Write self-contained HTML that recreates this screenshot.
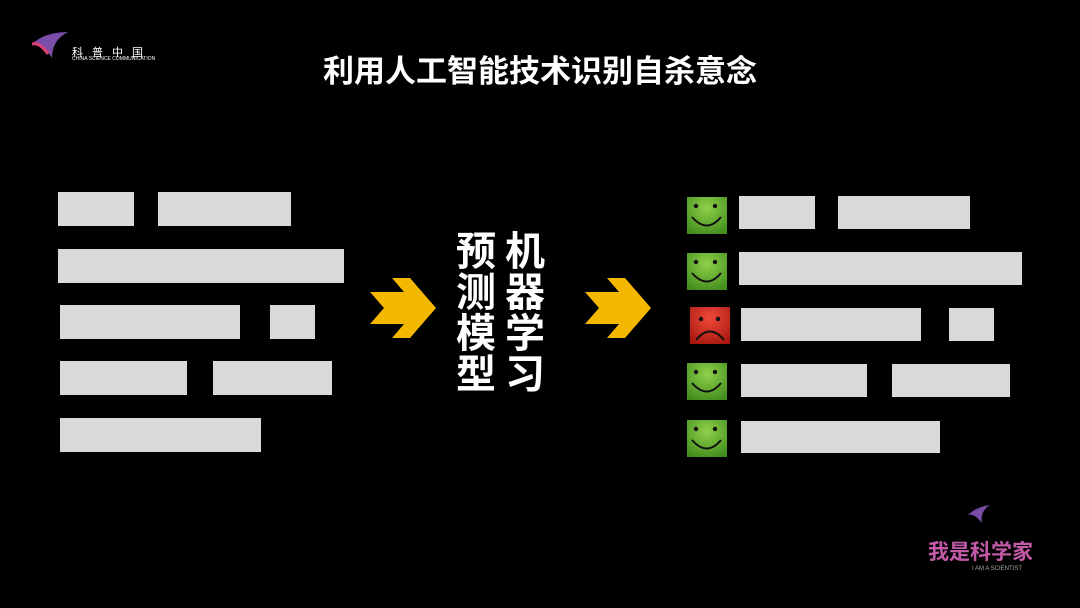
<!DOCTYPE html>
<html><head><meta charset="utf-8"><style>
body{margin:0;width:1080px;height:608px;background:#000;position:relative;overflow:hidden;font-family:"Liberation Sans","Noto Sans CJK SC",sans-serif}
.b{position:absolute;background:#d9d9d9}
.i{position:absolute;width:40px;height:37px}
.t{position:absolute;color:#fff;font-weight:bold}
</style></head><body>
<div class="t" style="left:0;width:1080px;top:46px;text-align:center;font-size:31px">利用人工智能技术识别自杀意念</div>
<svg style="position:absolute;left:30px;top:30px" width="40" height="30"><path d="M2 14 Q15 2 38 2 Q22 10 22 28 Q12 12 2 14Z" fill="#7a4ea8"/><path d="M2 14 Q10 12 18 24" stroke="#e0407a" stroke-width="3" fill="none"/></svg>
<div class="t" style="left:72px;top:44px;font-size:11px;font-weight:normal;letter-spacing:9px">科普中国</div>
<div class="t" style="left:72px;top:56px;font-size:5px;font-weight:normal">CHINA SCIENCE COMMUNICATION</div>

<div class="b" style="left:58px;top:192px;width:76px;height:34px"></div>
<div class="b" style="left:158px;top:192px;width:133px;height:34px"></div>
<div class="b" style="left:58px;top:249px;width:286px;height:34px"></div>
<div class="b" style="left:60px;top:305px;width:180px;height:34px"></div>
<div class="b" style="left:270px;top:305px;width:45px;height:34px"></div>
<div class="b" style="left:60px;top:361px;width:127px;height:34px"></div>
<div class="b" style="left:213px;top:361px;width:119px;height:34px"></div>
<div class="b" style="left:60px;top:418px;width:201px;height:34px"></div>

<svg style="position:absolute;left:370px;top:278px" width="66" height="60"><polygon points="0,14 34,14 22,0 40,0 66,30 40,60 22,60 34,46 0,46 14,30" fill="#f5b800"/></svg>
<svg style="position:absolute;left:585px;top:278px" width="66" height="60"><polygon points="0,14 34,14 22,0 40,0 66,30 40,60 22,60 34,46 0,46 14,30" fill="#f5b800"/></svg>

<div class="t" style="left:456px;top:232px;font-size:40px;line-height:41px;width:44px">预<br>测<br>模<br>型</div>
<div class="t" style="left:505px;top:232px;font-size:40px;line-height:41px;width:44px">机<br>器<br>学<br>习</div>

<svg width="0" height="0" style="position:absolute"><defs>
<radialGradient id="g" cx=".5" cy=".3" r=".8"><stop offset="0" stop-color="#8fd04a"/><stop offset="1" stop-color="#3f8a1c"/></radialGradient>
<radialGradient id="r" cx=".5" cy=".3" r=".8"><stop offset="0" stop-color="#f04a3a"/><stop offset="1" stop-color="#a3150d"/></radialGradient>
<g id="s"><rect width="40" height="37" fill="url(#g)"/><circle cx="9" cy="9" r="2.2" fill="#111"/><circle cx="28" cy="9" r="2.2" fill="#111"/><path d="M5 20 Q20 37 34 20" stroke="#111" stroke-width="2" fill="none"/></g>
<g id="f"><rect width="40" height="37" fill="url(#r)"/><circle cx="11" cy="12" r="2.2" fill="#111"/><circle cx="28" cy="12" r="2.2" fill="#111"/><path d="M6 33 Q20 16 34 33" stroke="#111" stroke-width="2" fill="none"/></g>
</defs></svg>
<svg class="i" style="left:687px;top:197px"><use href="#s"/></svg>
<svg class="i" style="left:687px;top:253px"><use href="#s"/></svg>
<svg class="i" style="left:690px;top:307px"><use href="#f"/></svg>
<svg class="i" style="left:687px;top:363px"><use href="#s"/></svg>
<svg class="i" style="left:687px;top:420px"><use href="#s"/></svg>

<div class="b" style="left:739px;top:196px;width:76px;height:33px"></div>
<div class="b" style="left:838px;top:196px;width:132px;height:33px"></div>
<div class="b" style="left:739px;top:252px;width:283px;height:33px"></div>
<div class="b" style="left:741px;top:308px;width:180px;height:33px"></div>
<div class="b" style="left:949px;top:308px;width:45px;height:33px"></div>
<div class="b" style="left:741px;top:364px;width:126px;height:33px"></div>
<div class="b" style="left:892px;top:364px;width:118px;height:33px"></div>
<div class="b" style="left:741px;top:421px;width:199px;height:32px"></div>

<svg style="position:absolute;left:966px;top:505px" width="26" height="18"><path d="M2 10 Q10 2 24 0 Q14 6 16 18 Q8 8 2 10Z" fill="#7a4ea8"/></svg>
<div class="t" style="left:928px;top:536px;font-size:21px;color:#c25aa8">我是科学家</div>
<div class="t" style="left:972px;top:566px;font-size:6px;font-weight:normal;color:#aaa">I AM A SCIENTIST</div>
</body></html>
